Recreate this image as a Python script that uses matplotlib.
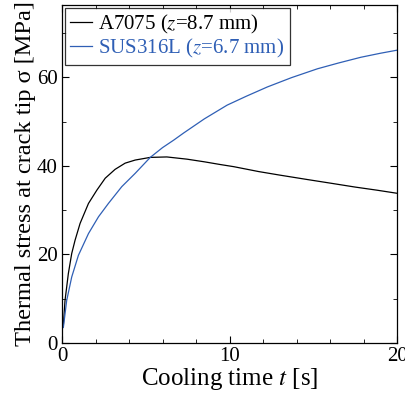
import numpy as np
import matplotlib.pyplot as plt
from matplotlib.ticker import MultipleLocator

plt.rcParams['font.family'] = ['Liberation Serif', 'DejaVu Serif']
plt.rcParams['mathtext.fontset'] = 'stix'

# --- Data ---
t_a7075 = [0.08, 0.18, 0.38, 0.58, 0.78, 1.08, 1.58, 2.08, 2.58, 3.17, 3.77, 4.37, 5.27, 6.26,
           7.46, 8.5, 9.43, 10.26, 11.74, 13.0, 14.65, 16.0, 17.5, 18.8, 20.0]
s_a7075 = [4.0, 9.6, 15.7, 20.2, 23.2, 27.0, 31.5, 34.5, 37.2, 39.2, 40.6, 41.3, 41.9, 42.0,
           41.5, 40.9, 40.3, 39.8, 38.7, 37.9, 36.9, 36.1, 35.2, 34.5, 33.8]

t_sus = [0.08, 0.28, 0.58, 0.98, 1.58, 2.18, 2.77, 3.57, 4.37, 5.27, 6.0, 6.67, 7.26, 8.5,
         9.86, 11.0, 12.26, 13.7, 15.25, 16.5, 17.84, 19.0, 20.0]
s_sus = [3.5, 9.6, 14.9, 19.8, 24.7, 28.5, 31.5, 35.3, 38.3, 41.9, 44.1, 45.8, 47.4, 50.6,
         53.7, 55.7, 57.8, 59.9, 61.9, 63.2, 64.5, 65.4, 66.1]

fig = plt.figure(figsize=(4.06, 3.94), dpi=100)
ax = fig.add_axes([62 / 406, 1 - 343 / 394, 335 / 406, 338 / 394])

ax.plot(t_a7075, s_a7075, color='black', lw=0.9, label='A7075 ($z$=8.7 mm)')
ax.plot(t_sus, s_sus, color='#2f5fb5', lw=0.9, label='SUS316L ($z$=6.7 mm)')

ax.set_xlim(0, 20)
ax.set_ylim(0, 76.3)
ax.xaxis.set_major_locator(MultipleLocator(10))
ax.xaxis.set_minor_locator(MultipleLocator(2))
ax.yaxis.set_major_locator(MultipleLocator(20))
ax.yaxis.set_minor_locator(MultipleLocator(10))
ax.tick_params(which='both', direction='in', top=True, right=True, labelsize=15, pad=3)
ax.tick_params(which='major', length=5)
ax.tick_params(which='minor', length=3)
for sp in ax.spines.values():
    sp.set_linewidth(0.9)

ax.set_xlabel('Cooling time $t$ [s]', fontsize=18, labelpad=0)
ax.set_ylabel('Thermal stress at crack tip σ [MPa]', fontsize=17.6, labelpad=1)

leg = ax.legend(loc='upper left', fontsize=15, frameon=True, fancybox=False,
                handlelength=1.05, handletextpad=0.3, borderpad=0.25,
                labelspacing=0.05, borderaxespad=0.14)
leg.get_frame().set_edgecolor('black')
leg.get_frame().set_linewidth(0.9)
for txt, line in zip(leg.get_texts(), leg.get_lines()):
    txt.set_color(line.get_color())

fig.savefig('out.png', dpi=100)
